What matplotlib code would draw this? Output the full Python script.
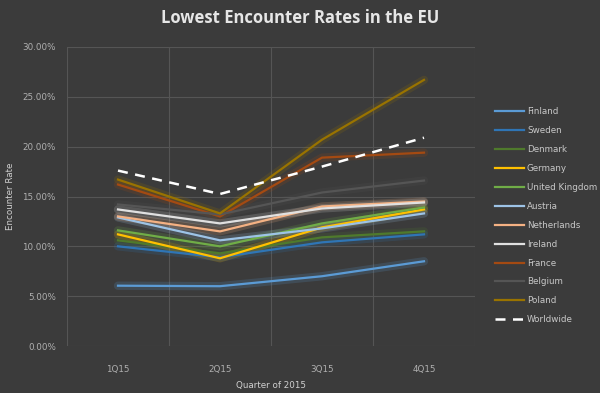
import numpy as np
import matplotlib
matplotlib.use("Agg")
import matplotlib.pyplot as plt
from matplotlib.ticker import FuncFormatter

quarters = ["1Q15", "2Q15", "3Q15", "4Q15"]
countries = ["Finland", "Sweden", "Denmark", "Germany", "United Kingdom", "Austria",
             "Netherlands", "Ireland", "France", "Belgium", "Poland", "Worldwide"]

finland = [6.05, 6.0, 7.0, 8.5]
sweden = [10.0, 8.9, 10.4, 11.2]
denmark = [10.6, 9.3, 10.9, 11.5]
germany = [11.2, 8.8, 11.9, 13.7]
uk = [11.6, 10.0, 12.3, 13.9]
austria = [12.9, 10.6, 11.8, 13.3]
netherlands = [13.0, 11.5, 14.0, 14.5]
ireland = [13.7, 12.3, 13.8, 14.4]
france = [16.2, 13.0, 18.9, 19.4]
belgium = [14.2, 13.2, 15.4, 16.6]
poland = [16.7, 13.3, 20.7, 26.7]
worldwide = [17.6, 15.25, 18.0, 20.9]

series = [finland, sweden, denmark, germany, uk, austria, netherlands,
          ireland, france, belgium, poland, worldwide]
colors = ["#5b9bd5", "#2f75b5", "#4f7a2c", "#ffc000", "#70ad47", "#9dc3e6",
          "#f4b183", "#e0e0e0", "#a44a12", "#555555", "#997300", "#ffffff"]

bg = "#3b3b3b"
fig = plt.figure(figsize=(6, 3.93), dpi=100, facecolor=bg)
ax = fig.add_axes([67/600, 1-346/393, 408/600, 299/393], facecolor=bg)

x = np.arange(len(quarters))
for name, vals, c in zip(countries, series, colors):
    if name == "Worldwide":
        ax.plot(x, vals, color=c, lw=1.8, ls=(0, (4, 3)), label=name, zorder=5)
    else:
        # soft glow under each line
        ax.plot(x, vals, color=c, lw=6, alpha=0.18, solid_capstyle="round", zorder=2)
        ax.plot(x, vals, color=c, lw=1.6, label=name, zorder=3)

ax.set_xlim(-0.5, 3.5)
ax.set_ylim(0, 30)
ax.set_yticks(np.arange(0, 31, 5))
ax.yaxis.set_major_formatter(FuncFormatter(lambda v, p: f"{v:.2f}%"))
ax.set_xticks(x)
ax.set_xticklabels(quarters)
ax.set_xticks(np.arange(-0.5, 4, 1), minor=True)
ax.grid(False)
ax.grid(True, which="minor", axis="x", color="#555555", lw=0.8)
ax.grid(True, which="major", axis="y", color="#555555", lw=0.8)
ax.set_axisbelow(True)
for s in ax.spines.values():
    s.set_visible(False)
ax.tick_params(which="both", length=0, colors="#b0b0b0", labelsize=6.3)
ax.tick_params(axis="x", pad=14)
ax.tick_params(axis="y", pad=8)

ax.set_ylabel("Encounter Rate", color="#d0d0d0", fontsize=6.3, labelpad=5)
ax.set_xlabel("Quarter of 2015", color="#d0d0d0", fontsize=6.3, labelpad=5)
fig.text(0.5, 1-18/393, "Lowest Encounter Rates in the EU", ha="center", va="center",
         color="#e6e6e6", fontsize=12, fontweight="bold", family="Open Sans")

leg = ax.legend(loc="upper left", bbox_to_anchor=((491-67)/408, (346-104)/299), frameon=False,
                fontsize=6.3, labelcolor="#c8c8c8", handlelength=3.4, handletextpad=0.3,
                labelspacing=1.13, borderaxespad=0)

fig.savefig("out.png", dpi=100, facecolor=bg)
